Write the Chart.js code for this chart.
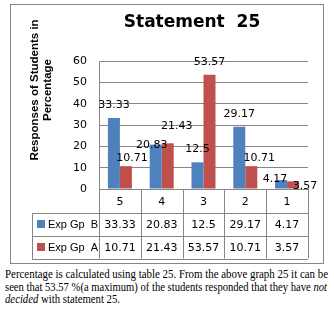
<!DOCTYPE html>
<html><head><meta charset="utf-8">
<script src="https://cdn.jsdelivr.net/npm/chart.js"></script>
<style>
html,body{margin:0;padding:0;background:#fff;width:334px;height:312px;overflow:hidden}
#wrap{position:absolute;left:0;top:0;width:334px;height:266px}
#cap{position:absolute;left:5px;top:268px;font-family:"Liberation Serif","Times New Roman",serif;font-size:11.5px;line-height:12.7px;color:#000}
#cap .ln{display:block;white-space:nowrap;transform-origin:0 0;width:max-content}
</style></head><body>
<div id="wrap"><canvas id="c" width="334" height="266"></canvas></div>
<div id="cap"><span class="ln" data-w="323">Percentage is calculated using table 25. From the above graph 25 it can be</span><span class="ln" data-w="322">seen that 53.57 %(a maximum) of the students responded that they have <i>not</i></span><span class="ln" data-w="115"><i>decided</i> with statement 25.</span></div>
<script>
// ---- data ----
const categories = ["5", "4", "3", "2", "1"];
const expGpB = [33.33, 20.83, 12.5, 29.17, 4.17];
const expGpA = [10.71, 21.43, 53.57, 10.71, 3.57];
const yTicks = [0, 10, 20, 30, 40, 50, 60];
const seriesNames = ["Exp Gp  B", "Exp Gp  A"];
const chartTitle = "Statement  25";
const yTitleLines = ["Responses of Students in", "Percentage"];

// ---- style ----
const BLUE = "#4F81BD", RED = "#C0504D", GRID = "#868686";
// label nudges relative to default "outside end" spot (dx, dy) per series/category
const labelNudge = [
  [[0,0],[-4,14],[0,0],[0,0],[-6,12]],
  [[6,5],[9,-4],[0,0],[8,5],[12,18]]
];

const tablePlugin = {
  id: "tbl",
  beforeDraw(chart) {
    const c = chart.ctx;
    c.save(); c.fillStyle = "#fff"; c.fillRect(0, 0, chart.width, chart.height); c.restore();
  },
  afterDraw(chart) {
    const c = chart.ctx, xs = chart.scales.x, ca = chart.chartArea;
    c.save();
    // outer border
    c.strokeStyle = GRID; c.lineWidth = 1;
    c.strokeRect(10.5, 4.5, 313, 259);
    // title
    c.fillStyle = "#000"; c.textAlign = "center"; c.textBaseline = "middle";
    c.font = "bold 17px 'DejaVu Sans'";
    c.fillText(chartTitle, 192, 23);
    // y title
    c.save();
    c.translate(41, 90); c.rotate(-Math.PI / 2);
    c.font = "bold 11.5px 'Liberation Sans'";
    c.fillText(yTitleLines[0], 0, -6);
    c.fillText(yTitleLines[1], 0, 6.5);
    c.restore();
    // data labels
    c.font = "11px 'DejaVu Sans'";
    const sets = [expGpB, expGpA];
    sets.forEach((vals, di) => {
      const meta = chart.getDatasetMeta(di);
      meta.data.forEach((bar, i) => {
        const nx = labelNudge[di][i][0], ny = labelNudge[di][i][1];
        c.fillText(String(vals[i]), bar.x + nx, bar.y - 13 + ny);
      });
    });
    // table
    const n = categories.length;
    const cw = (ca.right - ca.left) / n;
    const tLeft = 32, rowH = [ca.bottom, ca.bottom + 23.5, ca.bottom + 46.5, ca.bottom + 69.5];
    c.strokeStyle = GRID; c.lineWidth = 1;
    c.beginPath();
    for (let i = 0; i <= n; i++) {
      const x = Math.round(xs.getPixelForValue(0) - cw / 2 + i * cw) + 0.5;
      c.moveTo(x, ca.bottom); c.lineTo(x, rowH[3]);
    }
    for (let r = 1; r < 4; r++) {
      const y = Math.round(rowH[r]) + 0.5;
      c.moveTo(tLeft, y); c.lineTo(ca.right, y);
    }
    c.moveTo(tLeft + 0.5, Math.round(rowH[1]) + 0.5); c.lineTo(tLeft + 0.5, Math.round(rowH[3]) + 0.5);
    c.stroke();
    c.fillStyle = "#000"; c.font = "11px 'DejaVu Sans'"; c.textAlign = "center";
    categories.forEach((lab, i) => {
      const x = xs.getPixelForValue(i);
      c.fillText(lab, x, (rowH[0] + rowH[1]) / 2 + 1);
      c.fillText(String(expGpB[i]), x, (rowH[1] + rowH[2]) / 2 + 1);
      c.fillText(String(expGpA[i]), x, (rowH[2] + rowH[3]) / 2 + 1);
    });
    // legend keys
    [BLUE, RED].forEach((col, k) => {
      const cy = (rowH[k + 1] + rowH[k + 2]) / 2;
      c.fillStyle = col; c.fillRect(37, Math.round(cy) - 4, 8, 8);
      c.fillStyle = "#000"; c.textAlign = "left";
      c.font = "11px 'Liberation Sans'";
      c.fillText(seriesNames[k], 48, cy + 1);
    });
    c.restore();
  }
};

new Chart(document.getElementById("c"), {
  type: "bar",
  data: {
    labels: categories,
    datasets: [
      { label: seriesNames[0], data: expGpB, backgroundColor: BLUE },
      { label: seriesNames[1], data: expGpA, backgroundColor: RED }
    ]
  },
  options: {
    responsive: false, animation: false,
    layout: { padding: { top: 61, bottom: 77, left: 0, right: 26 } },
    datasets: { bar: { categoryPercentage: 0.574, barPercentage: 1.0 } },
    plugins: { legend: { display: false }, title: { display: false }, tooltip: { enabled: false } },
    scales: {
      x: { display: false, offset: true },
      y: {
        min: 0, max: 60,
        afterBuildTicks: s => { s.ticks = yTicks.map(v => ({ value: v })); },
        afterFit: s => { s.width = 99; },
        grid: { color: GRID, drawTicks: false },
        border: { display: true, color: GRID },
        ticks: { padding: 12, color: "#000", font: { family: "DejaVu Sans", size: 11 } }
      }
    }
  },
  plugins: [tablePlugin]
});

// fit each caption line to its reference width
document.querySelectorAll("#cap .ln").forEach(el => {
  const w = el.getBoundingClientRect().width;
  const target = parseFloat(el.dataset.w);
  el.style.transform = "scaleX(" + (target / w) + ")";
});
</script>
</body></html>
